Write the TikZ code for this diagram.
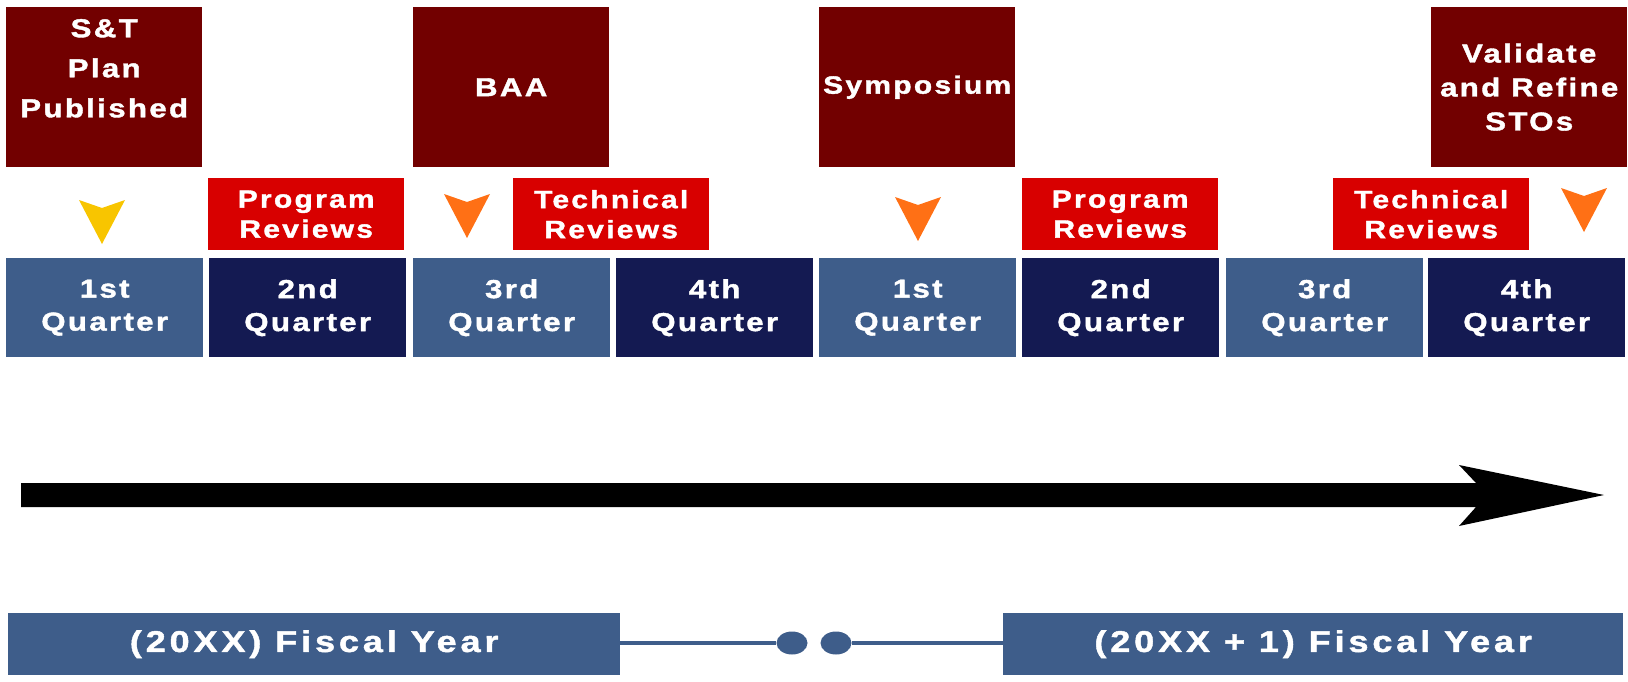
\documentclass[tikz,border=0pt]{standalone}
\usepackage{fontspec}
\usetikzlibrary{shapes.geometric}
\newfontfamily\lbl{Liberation Sans}[LetterSpace=9,FakeStretch=1.2,FakeBold=1.5]
\newfontfamily\lblfy{Liberation Sans}[LetterSpace=13,FakeStretch=1.2,FakeBold=1.5]
\definecolor{maroon}{HTML}{720000}
\definecolor{revred}{HTML}{D80000}
\definecolor{qlightc}{HTML}{3E5D8A}
\definecolor{qdarkc}{HTML}{141A52}
\definecolor{triY}{HTML}{F8C500}
\definecolor{triO}{HTML}{FF7015}
\begin{document}
\begin{tikzpicture}[x=1pt,y=-1pt,
  boxbase/.style={anchor=north west, inner sep=0pt, text=white, align=center,
    font={\lbl\bfseries\fontsize{26}{34}\selectfont}},
  evt/.style={boxbase, fill=maroon, minimum width=196pt, minimum height=160pt},
  rev/.style={boxbase, fill=revred, minimum width=196pt, minimum height=72pt,
    font={\lbl\bfseries\fontsize{25}{30}\selectfont}},
  qlight/.style={boxbase, fill=qlightc, minimum width=197pt, minimum height=99pt,
    font={\lbl\bfseries\fontsize{26}{33}\selectfont}},
  qdark/.style={qlight, fill=qdarkc},
  fybox/.style={boxbase, fill=qlightc, minimum height=62pt,
    font={\lblfy\bfseries\fontsize{30}{34}\selectfont}},
  fydot/.style={ellipse, fill=qlightc, inner sep=0pt, minimum width=31pt, minimum height=23pt},
  fyline/.style={draw=qlightc, line width=3.5pt},
  tri/.pic={\path[pic actions] (-23,0) -- (0,8) -- (23,0) -- (0,44) -- cycle;}
]
\useasboundingbox (0,0) rectangle (1628,681);

% event boxes
\node[evt, font={\lbl\bfseries\fontsize{26}{40}\selectfont}] (stplan) at (6,7) {S\&T\\Plan\\Published\\[-2pt]};
\node[evt] (baa) at (413,7) {BAA};
\node[evt, font={\lbl\bfseries\fontsize{25}{34}\selectfont}] (symp) at (819,7) {Symposium};
\node[evt] (valid) at (1431,7) {Validate\\and Refine\\STOs};

% review boxes
\node[rev] (prev1) at (208,178) {Program\\Reviews};
\node[rev] (trev1) at (513,178) {Technical\\Reviews};
\node[rev] (prev2) at (1022,178) {Program\\Reviews};
\node[rev] (trev2) at (1333,178) {Technical\\Reviews};

% markers
\pic[fill=triY] at (102,200) {tri};
\pic[fill=triO] at (467,194) {tri};
\pic[fill=triO] at (918,197) {tri};
\pic[fill=triO] at (1584,188) {tri};

% quarters
\node[qlight] (q1) at (6,258) {1st\\Quarter};
\node[qdark]  (q2) at (209,258) {2nd\\Quarter};
\node[qlight] (q3) at (413,258) {3rd\\Quarter};
\node[qdark]  (q4) at (616,258) {4th\\Quarter};
\node[qlight] (q5) at (819,258) {1st\\Quarter};
\node[qdark]  (q6) at (1022,258) {2nd\\Quarter};
\node[qlight] (q7) at (1226,258) {3rd\\Quarter};
\node[qdark]  (q8) at (1428,258) {4th\\Quarter};

% time arrow
\coordinate (arrS) at (21,495);
\coordinate (arrT) at (1604,495);
\fill[black] (21,483) -- (1476,483) -- (1459,465) -- (arrT) -- (1459,526) -- (1476,507) -- (21,507) -- cycle;

% fiscal years
\node[fybox, minimum width=612pt] (fy1) at (8,613) {(20XX) Fiscal Year};
\node[fybox, minimum width=620pt] (fy2) at (1003,613) {(20XX + 1) Fiscal Year};
\node[fydot] (d1) at (792,643) {};
\node[fydot] (d2) at (836,643) {};
\draw[fyline] (fy1.east |- d1) -- (d1);
\draw[fyline] (d2) -- (fy2.west |- d2);
\end{tikzpicture}
\end{document}
